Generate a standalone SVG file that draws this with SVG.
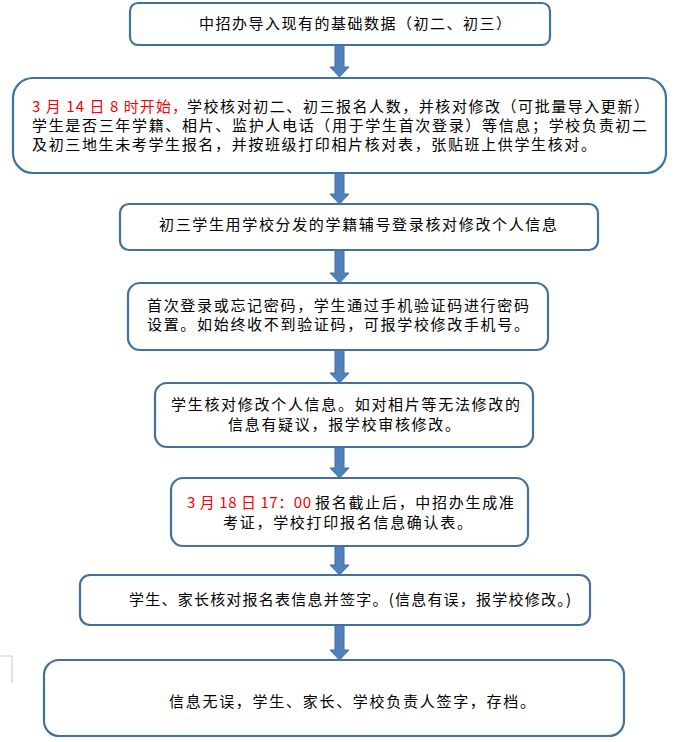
<svg xmlns="http://www.w3.org/2000/svg" width="683" height="742" viewBox="0 0 683 742">
<style>
.box{fill:#ffffff;stroke:#41719C;stroke-width:2.2}
.t{font-family:"Noto Sans CJK SC","Liberation Sans",sans-serif;font-size:15px;fill:#000000}
.r{fill:#FF0000}
.arr{fill:#4F81BD;stroke:#41719C;stroke-width:1}
</style>
<defs>
<path id="arrow" d="M-4.5 0 H4.5 V-10 H9.5 L0 0 L-9.5 -10 H-4.5 Z"/>
</defs>
<rect width="683" height="742" fill="#ffffff"/>
<path d="M0 656 H12 V683" fill="none" stroke="#c8c8c8" stroke-width="1"/>
<g id="connectors">
<path class="arr" d="M335 45 H344 V67 H349 L339.5 77 L330 67 H335 Z"/>
<path class="arr" d="M335 173 H344 V194 H349 L339.5 204 L330 194 H335 Z"/>
<path class="arr" d="M335 250 H344 V273 H349 L339.5 283 L330 273 H335 Z"/>
<path class="arr" d="M335 350 H344 V373 H349 L339.5 383 L330 373 H335 Z"/>
<path class="arr" d="M335 447 H344 V468 H349 L339.5 478 L330 468 H335 Z"/>
<path class="arr" d="M335 546 H344 V565 H349 L339.5 575 L330 565 H335 Z"/>
<path class="arr" d="M335 625 H344 V650 H349 L339.5 660 L330 650 H335 Z"/>
</g>
<g id="n1">
<rect class="box" x="130" y="3" width="420" height="42" rx="8"/>
<text class="t" x="199" y="29" textLength="312" lengthAdjust="spacing">中招办导入现有的基础数据（初二、初三）</text>
</g>
<g id="n2">
<rect class="box" x="13" y="78" width="653" height="95" rx="20"/>
<text class="t r" x="32" y="112" textLength="155" lengthAdjust="spacing">3 月 14 日 8 时开始，</text>
<text class="t" x="187" y="112" textLength="462" lengthAdjust="spacing">学校核对初二、初三报名人数，并核对修改（可批量导入更新）</text>
<text class="t" x="32" y="131" textLength="615" lengthAdjust="spacing">学生是否三年学籍、相片、监护人电话（用于学生首次登录）等信息；学校负责初二</text>
<text class="t" x="32" y="150" textLength="564" lengthAdjust="spacing">及初三地生未考学生报名，并按班级打印相片核对表，张贴班上供学生核对。</text>
</g>
<g id="n3">
<rect class="box" x="120" y="204" width="478" height="46" rx="9"/>
<text class="t" x="159" y="230" textLength="398" lengthAdjust="spacing">初三学生用学校分发的学籍辅号登录核对修改个人信息</text>
</g>
<g id="n4">
<rect class="box" x="128" y="283" width="420" height="67" rx="12"/>
<text class="t" x="147" y="311" textLength="382" lengthAdjust="spacing">首次登录或忘记密码，学生通过手机验证码进行密码</text>
<text class="t" x="147" y="330" textLength="382" lengthAdjust="spacing">设置。如始终收不到验证码，可报学校修改手机号。</text>
</g>
<g id="n5">
<rect class="box" x="155" y="383" width="378" height="64" rx="12"/>
<text class="t" x="171" y="410" textLength="349" lengthAdjust="spacing">学生核对修改个人信息。如对相片等无法修改的</text>
<text class="t" x="228" y="430" textLength="232" lengthAdjust="spacing">信息有疑议，报学校审核修改。</text>
</g>
<g id="n6">
<rect class="box" x="171" y="478" width="357" height="68" rx="12"/>
<text class="t r" x="187" y="508" textLength="124" lengthAdjust="spacing">3 月 18 日 17：00</text>
<text class="t" x="315" y="508" textLength="199" lengthAdjust="spacing">报名截止后，中招办生成准</text>
<text class="t" x="223" y="528" textLength="249" lengthAdjust="spacing">考证，学校打印报名信息确认表。</text>
</g>
<g id="n7">
<rect class="box" x="80" y="575" width="510" height="50" rx="10"/>
<text class="t" x="129" y="605" textLength="442" lengthAdjust="spacing">学生、家长核对报名表信息并签字。(信息有误，报学校修改。)</text>
</g>
<g id="n8">
<rect class="box" x="44" y="660" width="580" height="76" rx="15"/>
<text class="t" x="169" y="707" textLength="366" lengthAdjust="spacing">信息无误，学生、家长、学校负责人签字，存档。</text>
</g>
</svg>
